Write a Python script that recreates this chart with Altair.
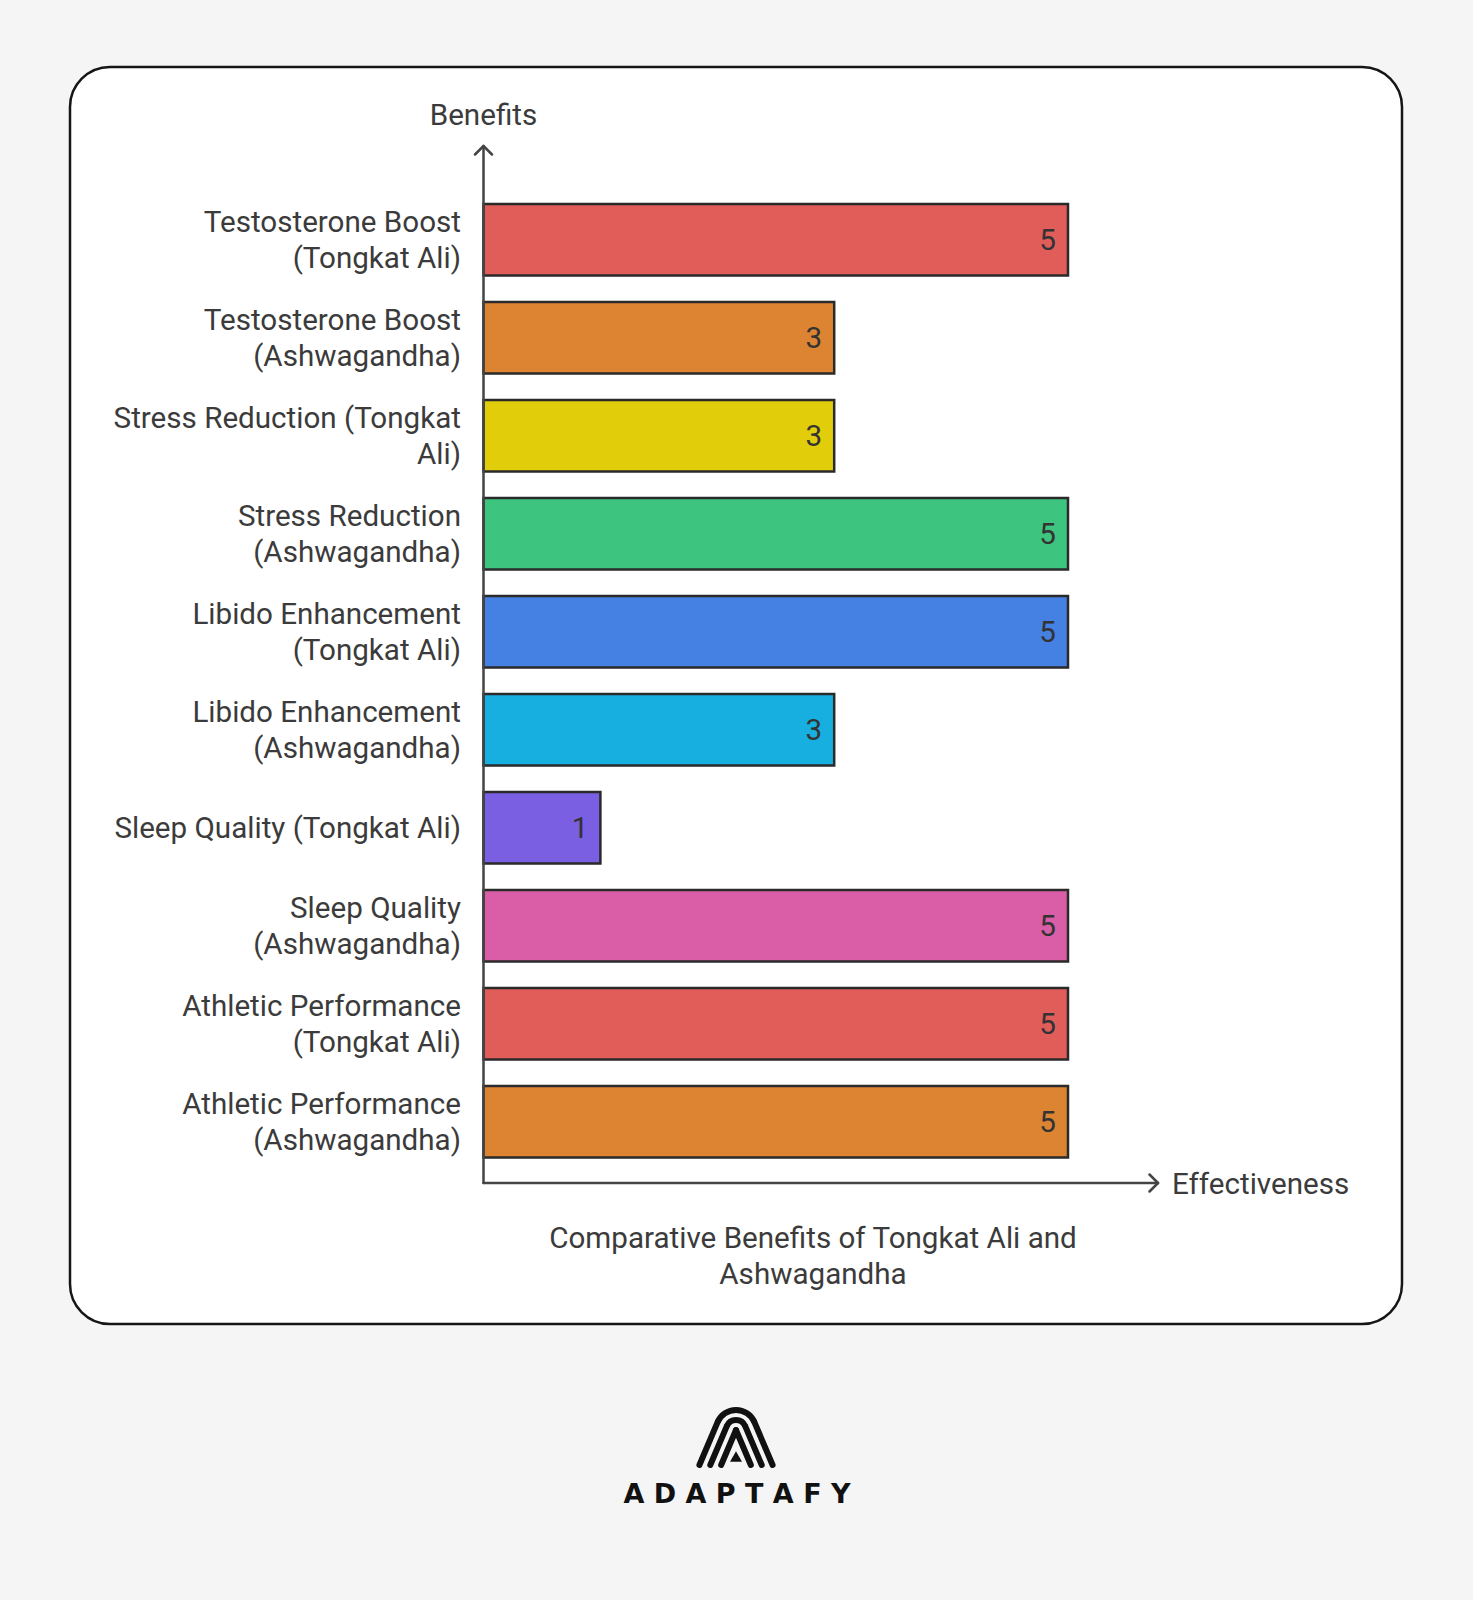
import math
import altair as alt
import pandas as pd

# ---- data ----
benefits = [
    "Testosterone Boost (Tongkat Ali)",
    "Testosterone Boost (Ashwagandha)",
    "Stress Reduction (Tongkat Ali)",
    "Stress Reduction (Ashwagandha)",
    "Libido Enhancement (Tongkat Ali)",
    "Libido Enhancement (Ashwagandha)",
    "Sleep Quality (Tongkat Ali)",
    "Sleep Quality (Ashwagandha)",
    "Athletic Performance (Tongkat Ali)",
    "Athletic Performance (Ashwagandha)",
]
labels = [
    "Testosterone Boost\n(Tongkat Ali)",
    "Testosterone Boost\n(Ashwagandha)",
    "Stress Reduction (Tongkat\nAli)",
    "Stress Reduction\n(Ashwagandha)",
    "Libido Enhancement\n(Tongkat Ali)",
    "Libido Enhancement\n(Ashwagandha)",
    "Sleep Quality (Tongkat Ali)",
    "Sleep Quality\n(Ashwagandha)",
    "Athletic Performance\n(Tongkat Ali)",
    "Athletic Performance\n(Ashwagandha)",
]
values = [5, 3, 3, 5, 5, 3, 1, 5, 5, 5]
colors = ["#e05d5a", "#dd8432", "#e2cd0b", "#3dc47f", "#4580e3",
          "#17aee0", "#7a5fe3", "#da5ea7", "#e05d5a", "#dd8432"]

title_text = "Comparative Benefits of Tongkat Ali and\nAshwagandha"
y_title = "Benefits"
x_title = "Effectiveness"
brand = " ".join("ADAPTAFY")

df = pd.DataFrame({"benefit": benefits, "label": labels, "value": values,
                   "lines": [l.count("\n") + 1 for l in labels]})
one = pd.DataFrame({"k": [0]})

FONT = "Roboto"
FS = 29.6
LH = 36
DY = 1.0
TXT = "#3b3b3b"
AX = "#444444"
INK = "#111111"

xscale = alt.Scale(domain=[0, 5], range=[483.5, 1068], nice=False, zero=True)
yscale = alt.Scale(domain=benefits, range=[204, 1157.5], paddingInner=0.27, paddingOuter=0)

def rule(x1, y1, x2, y2, color=AX, width=2.5, cap="round"):
    return alt.Chart(one).mark_rule(color=color, strokeWidth=width, strokeCap=cap).encode(
        x=alt.value(x1), y=alt.value(y1), x2=alt.value(x2), y2=alt.value(y2))

def text(t, x, y, font=FONT, **kw):
    return alt.Chart(pd.DataFrame({"t": [t]})).mark_text(font=font, **kw).encode(
        x=alt.value(x), y=alt.value(y), text="t:N")

card = alt.Chart(one).mark_rect(cornerRadius=40, fill="white", stroke="#161616",
                                strokeWidth=2.5).encode(
    x=alt.value(70), x2=alt.value(1402), y=alt.value(67), y2=alt.value(1324))

base = alt.Chart(df)
Y = alt.Y("benefit:N", sort=benefits, scale=yscale, axis=None)
bars = base.mark_bar(stroke="#2a2a2a", strokeWidth=2.5).encode(
    x=alt.X("value:Q", scale=xscale, axis=None),
    y=Y,
    color=alt.Color("benefit:N", scale=alt.Scale(domain=benefits, range=colors), legend=None),
)
vals = base.mark_text(font=FONT, fontSize=FS, color="#333333", align="right",
                      baseline="middle", dx=-12, dy=DY).encode(
    x=alt.X("value:Q", scale=xscale, axis=None),
    y=Y,
    text="value:Q",
)
cats1 = base.transform_filter("datum.lines == 1").mark_text(
    font=FONT, fontSize=FS, color=TXT, align="right", baseline="middle",
    lineBreak="\n", lineHeight=LH, dy=DY).encode(x=alt.value(461), y=Y, text="label:N")
cats2 = base.transform_filter("datum.lines == 2").mark_text(
    font=FONT, fontSize=FS, color=TXT, align="right", baseline="middle",
    lineBreak="\n", lineHeight=LH, dy=DY - LH / 2).encode(x=alt.value(461), y=Y, text="label:N")

axes = [
    rule(483.5, 146, 483.5, 1183),
    rule(483.5, 1183, 1158, 1183),
    rule(483.5, 146, 475, 154.5),
    rule(483.5, 146, 492, 154.5),
    rule(1158, 1183, 1149.5, 1174.5),
    rule(1158, 1183, 1149.5, 1191.5),
]

texts = [
    text(y_title, 483.5, 115.5, fontSize=FS, color=TXT, align="center", baseline="middle"),
    text(x_title, 1172, 1184.5, fontSize=FS, color=TXT, align="left", baseline="middle"),
    text(title_text, 813, 1238.5, fontSize=FS, color=TXT, align="center",
         baseline="middle", lineBreak="\n", lineHeight=LH),
    text(brand, 737, 1495, font="DejaVu Sans", fontSize=27, color=INK,
         align="center", baseline="middle", fontWeight="bold"),
]

# logo: three nested rounded chevrons (concentric arcs + straight legs) and a small triangle
CX, CY, TH, SW, YEND = 736, 1430, math.radians(23), 6, 1465
logo = []
for r in (20, 10, 0):
    tx = r * math.cos(TH)
    ty = CY - r * math.sin(TH)
    ex = tx + (YEND - ty) * math.tan(TH)
    if r > 0:
        a = math.pi / 2 - TH
        logo.append(alt.Chart(one).mark_arc(
            innerRadius=r - SW / 2, outerRadius=r + SW / 2,
            theta=2 * math.pi - a, theta2=2 * math.pi + a, color=INK).encode(
            x=alt.value(CX), y=alt.value(CY)))
    logo.append(rule(CX - tx, ty, CX - ex, YEND, color=INK, width=SW))
    logo.append(rule(CX + tx, ty, CX + ex, YEND, color=INK, width=SW))
tri = alt.Chart(one).mark_point(shape="triangle-up", filled=True, color=INK,
                                size=144, opacity=1).encode(
    x=alt.value(736), y=alt.value(1456.5))

chart = alt.layer(card, bars, vals, cats1, cats2, *axes, *texts, *logo, tri).properties(
    width=1473, height=1600,
    autosize=alt.AutoSizeParams(type="none"),
    padding=0,
    background="#f5f5f5",
).configure_view(stroke=None)

chart.save("out.html", embed_options={"renderer": "svg", "actions": False})
